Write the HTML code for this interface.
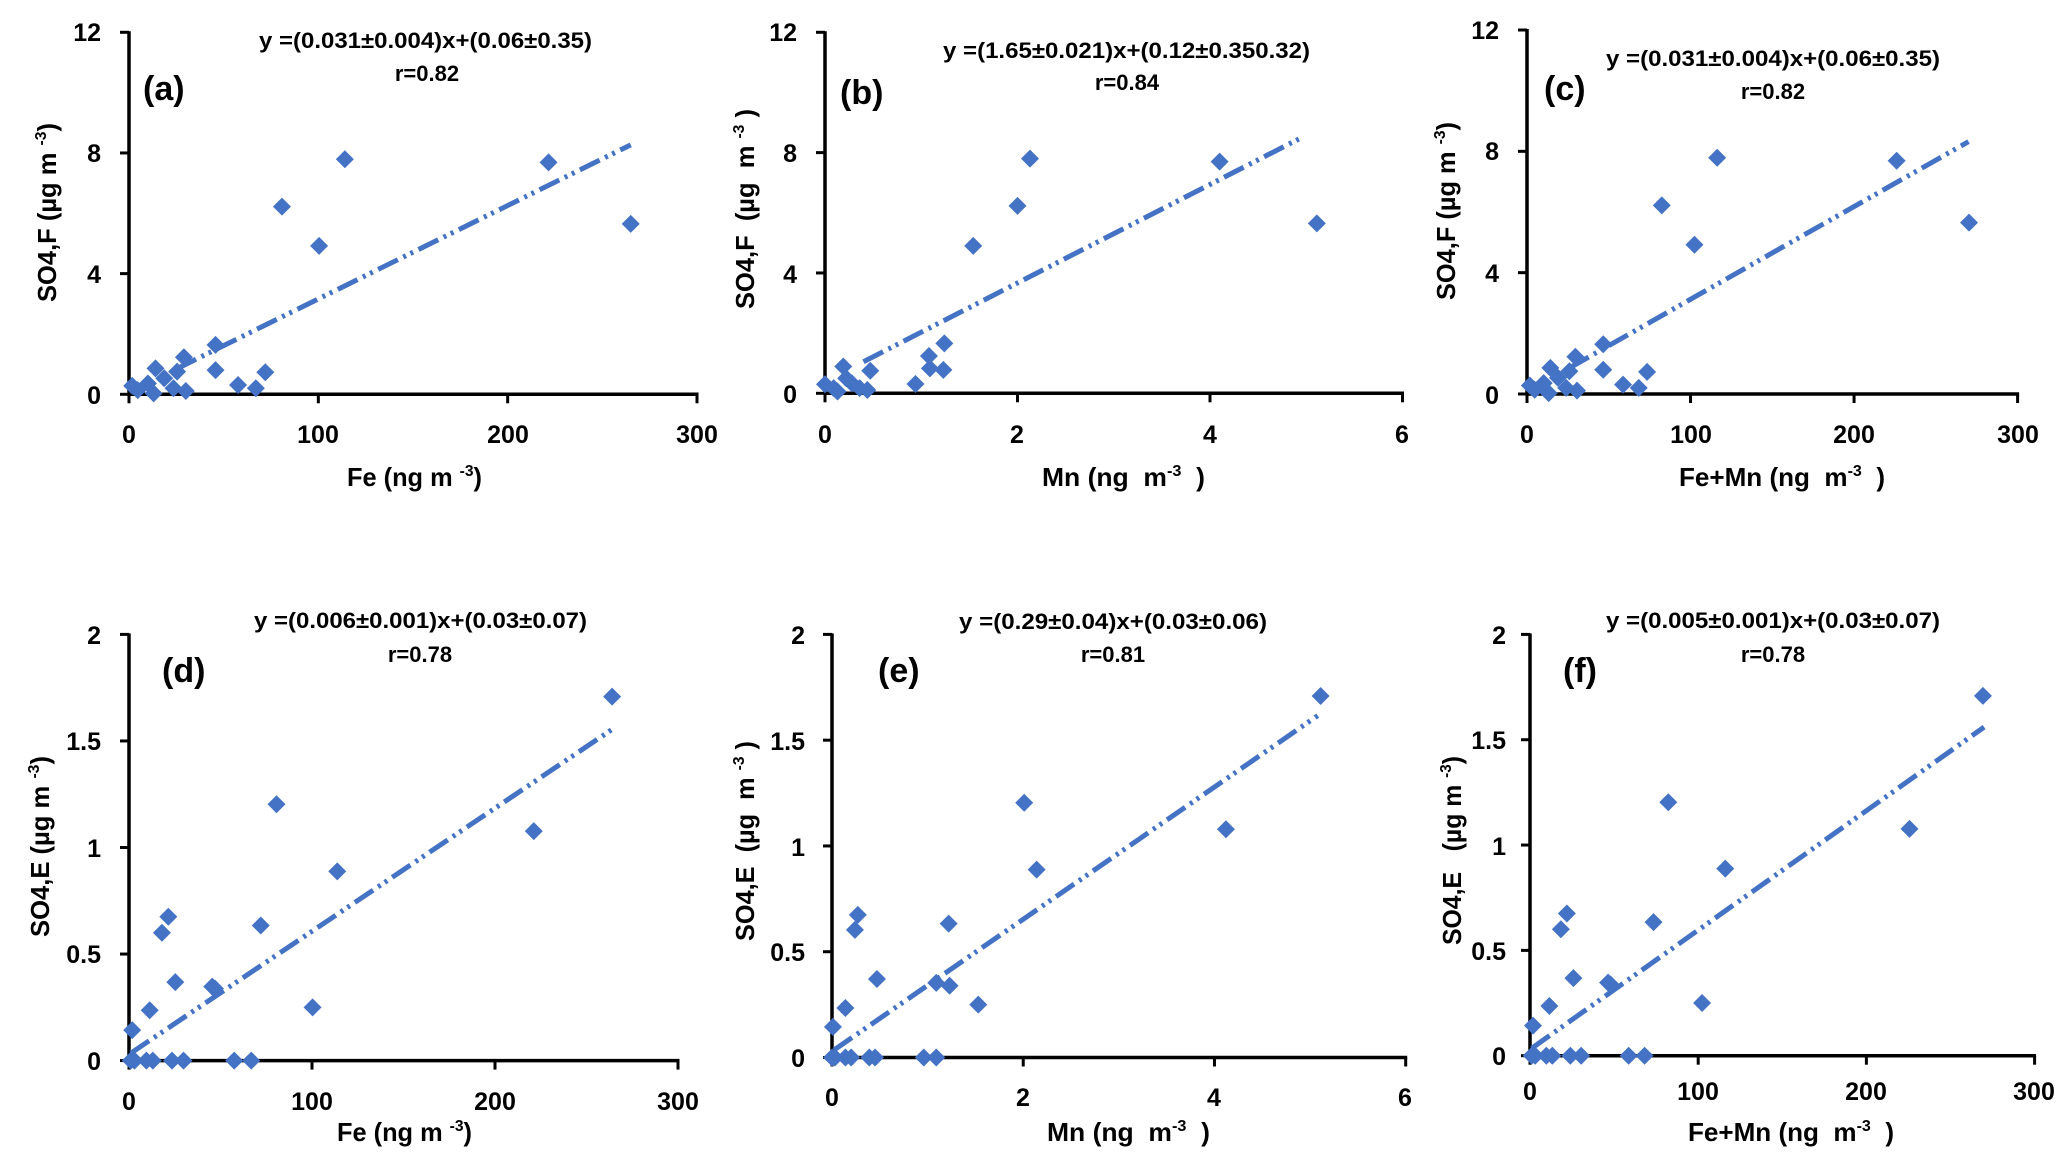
<!DOCTYPE html>
<html><head><meta charset="utf-8"><style>
html,body{margin:0;padding:0;background:#fff;}
svg{display:block;}
text{font-family:"Liberation Sans",Arial,sans-serif;font-weight:bold;fill:#000;}
.tk{font-size:25px;}
.eq{font-size:22px;}
.pl{font-size:34px;}
.al{font-size:26px;}
</style></head><body>
<svg id="s" width="2067" height="1152" viewBox="0 0 2067 1152" xmlns="http://www.w3.org/2000/svg">
<g id="g"></g>
<!-- Panel a -->
<text class="tk" x="101" y="41" text-anchor="end">12</text>
<text class="tk" x="101" y="162" text-anchor="end">8</text>
<text class="tk" x="101" y="283" text-anchor="end">4</text>
<text class="tk" x="101" y="404" text-anchor="end">0</text>
<text class="tk" x="129" y="443" text-anchor="middle">0</text>
<text class="tk" x="318" y="443" text-anchor="middle">100</text>
<text class="tk" x="508" y="443" text-anchor="middle">200</text>
<text class="tk" x="697" y="443" text-anchor="middle">300</text>
<text class="eq" x="259" y="48" textLength="333" lengthAdjust="spacingAndGlyphs">y =(0.031±0.004)x+(0.06±0.35)</text>
<text class="eq" x="427" y="81" text-anchor="middle">r=0.82</text>
<text class="pl" x="143" y="100">(a)</text>
<text class="al" x="347" y="486" textLength="135" lengthAdjust="spacingAndGlyphs">Fe (ng m <tspan font-size="16" dy="-10">-3</tspan><tspan dy="10">)</tspan></text>
<text class="al" transform="translate(56,302) rotate(-90)" textLength="179" lengthAdjust="spacingAndGlyphs">SO4,F (µg m <tspan font-size="16" dy="-10">-3</tspan><tspan dy="10">)</tspan></text>
<!-- Panel b -->
<text class="tk" x="797" y="41" text-anchor="end">12</text>
<text class="tk" x="797" y="162" text-anchor="end">8</text>
<text class="tk" x="797" y="283" text-anchor="end">4</text>
<text class="tk" x="797" y="403" text-anchor="end">0</text>
<text class="tk" x="825" y="443" text-anchor="middle">0</text>
<text class="tk" x="1017" y="443" text-anchor="middle">2</text>
<text class="tk" x="1210" y="443" text-anchor="middle">4</text>
<text class="tk" x="1402" y="443" text-anchor="middle">6</text>
<text class="eq" x="943" y="58" textLength="367" lengthAdjust="spacingAndGlyphs">y =(1.65±0.021)x+(0.12±0.350.32)</text>
<text class="eq" x="1127" y="90" text-anchor="middle">r=0.84</text>
<text class="pl" x="840" y="104">(b)</text>
<text class="al" x="1042" y="486" textLength="163" lengthAdjust="spacingAndGlyphs">Mn (ng&#160;&#160;m<tspan font-size="16" dy="-10">-3</tspan><tspan dy="10">&#160;&#160;)</tspan></text>
<text class="al" transform="translate(754,309) rotate(-90)" textLength="200" lengthAdjust="spacingAndGlyphs">SO4,F&#160;&#160;(µg&#160;&#160;m <tspan font-size="16" dy="-10">-3</tspan><tspan dy="10">&#160;)</tspan></text>
<!-- Panel c -->
<text class="tk" x="1499" y="39" text-anchor="end">12</text>
<text class="tk" x="1499" y="160" text-anchor="end">8</text>
<text class="tk" x="1499" y="282" text-anchor="end">4</text>
<text class="tk" x="1499" y="404" text-anchor="end">0</text>
<text class="tk" x="1527" y="443" text-anchor="middle">0</text>
<text class="tk" x="1691" y="443" text-anchor="middle">100</text>
<text class="tk" x="1854" y="443" text-anchor="middle">200</text>
<text class="tk" x="2018" y="443" text-anchor="middle">300</text>
<text class="eq" x="1606" y="66" textLength="334" lengthAdjust="spacingAndGlyphs">y =(0.031±0.004)x+(0.06±0.35)</text>
<text class="eq" x="1773" y="99" text-anchor="middle">r=0.82</text>
<text class="pl" x="1544" y="100">(c)</text>
<text class="al" x="1679" y="486" textLength="206" lengthAdjust="spacingAndGlyphs">Fe+Mn (ng&#160;&#160;m<tspan font-size="16" dy="-10">-3</tspan><tspan dy="10">&#160;&#160;)</tspan></text>
<text class="al" transform="translate(1455,300) rotate(-90)" textLength="178" lengthAdjust="spacingAndGlyphs">SO4,F (µg m <tspan font-size="16" dy="-10">-3</tspan><tspan dy="10">)</tspan></text>
<!-- Panel d -->
<text class="tk" x="101" y="644" text-anchor="end">2</text>
<text class="tk" x="101" y="750" text-anchor="end">1.5</text>
<text class="tk" x="101" y="857" text-anchor="end">1</text>
<text class="tk" x="101" y="963" text-anchor="end">0.5</text>
<text class="tk" x="101" y="1070" text-anchor="end">0</text>
<text class="tk" x="129" y="1110" text-anchor="middle">0</text>
<text class="tk" x="312" y="1110" text-anchor="middle">100</text>
<text class="tk" x="495" y="1110" text-anchor="middle">200</text>
<text class="tk" x="678" y="1110" text-anchor="middle">300</text>
<text class="eq" x="254" y="628" textLength="333" lengthAdjust="spacingAndGlyphs">y =(0.006±0.001)x+(0.03±0.07)</text>
<text class="eq" x="420" y="662" text-anchor="middle">r=0.78</text>
<text class="pl" x="162" y="682">(d)</text>
<text class="al" x="337" y="1141" textLength="135" lengthAdjust="spacingAndGlyphs">Fe (ng m <tspan font-size="16" dy="-10">-3</tspan><tspan dy="10">)</tspan></text>
<text class="al" transform="translate(49,937) rotate(-90)" textLength="181" lengthAdjust="spacingAndGlyphs">SO4,E (µg m <tspan font-size="16" dy="-10">-3</tspan><tspan dy="10">)</tspan></text>
<!-- Panel e -->
<text class="tk" x="805" y="644" text-anchor="end">2</text>
<text class="tk" x="805" y="750" text-anchor="end">1.5</text>
<text class="tk" x="805" y="856" text-anchor="end">1</text>
<text class="tk" x="805" y="961" text-anchor="end">0.5</text>
<text class="tk" x="805" y="1067" text-anchor="end">0</text>
<text class="tk" x="832" y="1106" text-anchor="middle">0</text>
<text class="tk" x="1023" y="1106" text-anchor="middle">2</text>
<text class="tk" x="1214" y="1106" text-anchor="middle">4</text>
<text class="tk" x="1405" y="1106" text-anchor="middle">6</text>
<text class="eq" x="959" y="629" textLength="308" lengthAdjust="spacingAndGlyphs">y =(0.29±0.04)x+(0.03±0.06)</text>
<text class="eq" x="1113" y="662" text-anchor="middle">r=0.81</text>
<text class="pl" x="878" y="682">(e)</text>
<text class="al" x="1047" y="1141" textLength="163" lengthAdjust="spacingAndGlyphs">Mn (ng&#160;&#160;m<tspan font-size="16" dy="-10">-3</tspan><tspan dy="10">&#160;&#160;)</tspan></text>
<text class="al" transform="translate(754,941) rotate(-90)" textLength="200" lengthAdjust="spacingAndGlyphs">SO4,E&#160;&#160;(µg&#160;&#160;m <tspan font-size="16" dy="-10">-3</tspan><tspan dy="10">&#160;)</tspan></text>
<!-- Panel f -->
<text class="tk" x="1506" y="644" text-anchor="end">2</text>
<text class="tk" x="1506" y="749" text-anchor="end">1.5</text>
<text class="tk" x="1506" y="855" text-anchor="end">1</text>
<text class="tk" x="1506" y="960" text-anchor="end">0.5</text>
<text class="tk" x="1506" y="1065" text-anchor="end">0</text>
<text class="tk" x="1530" y="1100" text-anchor="middle">0</text>
<text class="tk" x="1698" y="1100" text-anchor="middle">100</text>
<text class="tk" x="1866" y="1100" text-anchor="middle">200</text>
<text class="tk" x="2034" y="1100" text-anchor="middle">300</text>
<text class="eq" x="1606" y="628" textLength="334" lengthAdjust="spacingAndGlyphs">y =(0.005±0.001)x+(0.03±0.07)</text>
<text class="eq" x="1773" y="662" text-anchor="middle">r=0.78</text>
<text class="pl" x="1563" y="682">(f)</text>
<text class="al" x="1688" y="1141" textLength="206" lengthAdjust="spacingAndGlyphs">Fe+Mn (ng&#160;&#160;m<tspan font-size="16" dy="-10">-3</tspan><tspan dy="10">&#160;&#160;)</tspan></text>
<text class="al" transform="translate(1461,945) rotate(-90)" textLength="189" lengthAdjust="spacingAndGlyphs">SO4,E&#160;&#160;&#160;(µg m <tspan font-size="16" dy="-10">-3</tspan><tspan dy="10">)</tspan></text>
</svg>
<script>
(function(){
var NS="http://www.w3.org/2000/svg",g=document.getElementById("g");
function el(n,a){var e=document.createElementNS(NS,n);for(var k in a)e.setAttribute(k,a[k]);g.appendChild(e);return e;}
var fePts=[[1.7,0.28],[4.6,0.14],[10,0.36],[13,0.03],[14,0.86],[18.6,0.53],[23.5,0.2],[25.4,0.75],[29,1.23],[30,0.11],[45.7,1.64],[45.7,0.8],[57.6,0.31],[67,0.2],[72,0.73],[80.8,6.22],[100.4,4.92],[114,7.79],[221.6,7.69],[265,5.65]];
var mnPts=[[0,0.3],[0.09,0.17],[0.13,0.06],[0.19,0.89],[0.22,0.5],[0.28,0.33],[0.36,0.17],[0.44,0.11],[0.47,0.75],[0.94,0.31],[1.08,1.24],[1.09,0.83],[1.23,0.78],[1.24,1.66],[1.54,4.9],[2.0,6.23],[2.13,7.8],[4.1,7.7],[5.11,5.65]];
var feE=[[1.75,0.143],[1,0],[3,0],[9.5,0],[13,0],[23.5,0],[29.8,0],[57.5,0],[66.8,0],[11.3,0.236],[18,0.6],[21.5,0.675],[25.3,0.368],[45.5,0.347],[47,0.338],[72,0.634],[80.6,1.203],[100.3,0.25],[113.8,0.888],[221.2,1.077],[264,1.708]];
var mnE=[[0.01,0.145],[0,0],[0.03,0],[0.14,0],[0.2,0],[0.39,0],[0.45,0],[0.96,0],[1.09,0],[0.14,0.234],[0.24,0.603],[0.27,0.674],[0.47,0.371],[1.09,0.353],[1.23,0.339],[1.22,0.633],[1.53,0.25],[2.01,1.204],[2.14,0.888],[4.12,1.079],[5.11,1.709]];
function sc(p,k){return p.map(function(q){return [q[0]*k,q[1]];});}
var P=[
 {x0:129,x1:697,xm:300,yt:32.3,yb:394.3,ym:12,xt:[0,100,200,300],yk:[0,4,8,12],pts:fePts,ln:[[25,0.84],[265,8.27]]},
 {x0:825,x1:1402.5,xm:6,yt:32.3,yb:393.3,ym:12,xt:[0,2,4,6],yk:[0,4,8,12],pts:mnPts,ln:[[0.4,1.05],[4.97,8.53]]},
 {x0:1527,x1:2017.6,xm:300,yt:30,yb:394,ym:12,xt:[0,100,200,300],yk:[0,4,8,12],pts:sc(fePts,1.02),ln:[[26,0.86],[270,8.32]]},
 {x0:129,x1:678,xm:300,yt:634.4,yb:1060.6,ym:2,xt:[0,100,200,300],yk:[0,0.5,1,1.5,2],pts:feE,ln:[[1,0.035],[265,1.56]]},
 {x0:832,x1:1405.7,xm:6,yt:634.4,yb:1057.5,ym:2,xt:[0,2,4,6],yk:[0,0.5,1,1.5,2],pts:mnE,ln:[[0.02,0.035],[5.08,1.616]]},
 {x0:1530,x1:2034.6,xm:300,yt:634.4,yb:1055.7,ym:2,xt:[0,100,200,300],yk:[0,0.5,1,1.5,2],pts:sc(feE,1.02),ln:[[1,0.035],[270,1.56]]}
];
P.forEach(function(p){
 function X(v){return p.x0+(p.x1-p.x0)*v/p.xm;}
 function Y(v){return p.yb-(p.yb-p.yt)*v/p.ym;}
 el("line",{x1:p.x0,y1:p.yt-1,x2:p.x0,y2:p.yb+1.5,stroke:"#000","stroke-width":3.5});
 el("line",{x1:p.x0-1.5,y1:p.yb,x2:p.x1+1.5,y2:p.yb,stroke:"#000","stroke-width":3.5});
 p.yk.forEach(function(v){el("line",{x1:p.x0-9,y1:Y(v),x2:p.x0,y2:Y(v),stroke:"#000","stroke-width":3});});
 p.xt.forEach(function(v){el("line",{x1:X(v),y1:p.yb,x2:X(v),y2:p.yb+9,stroke:"#000","stroke-width":3});});
 p.pts.forEach(function(q){var cx=X(q[0]),cy=Y(q[1]);
  el("polygon",{points:(cx-9)+","+cy+" "+cx+","+(cy-9)+" "+(cx+9)+","+cy+" "+cx+","+(cy+9),fill:"#4472C4"});});
 el("line",{x1:X(p.ln[0][0]),y1:Y(p.ln[0][1]),x2:X(p.ln[1][0]),y2:Y(p.ln[1][1]),stroke:"#4472C4","stroke-width":5,"stroke-dasharray":"22 6 3 5 3 6","stroke-linecap":"butt"});
});
})();
</script>
</body></html>
